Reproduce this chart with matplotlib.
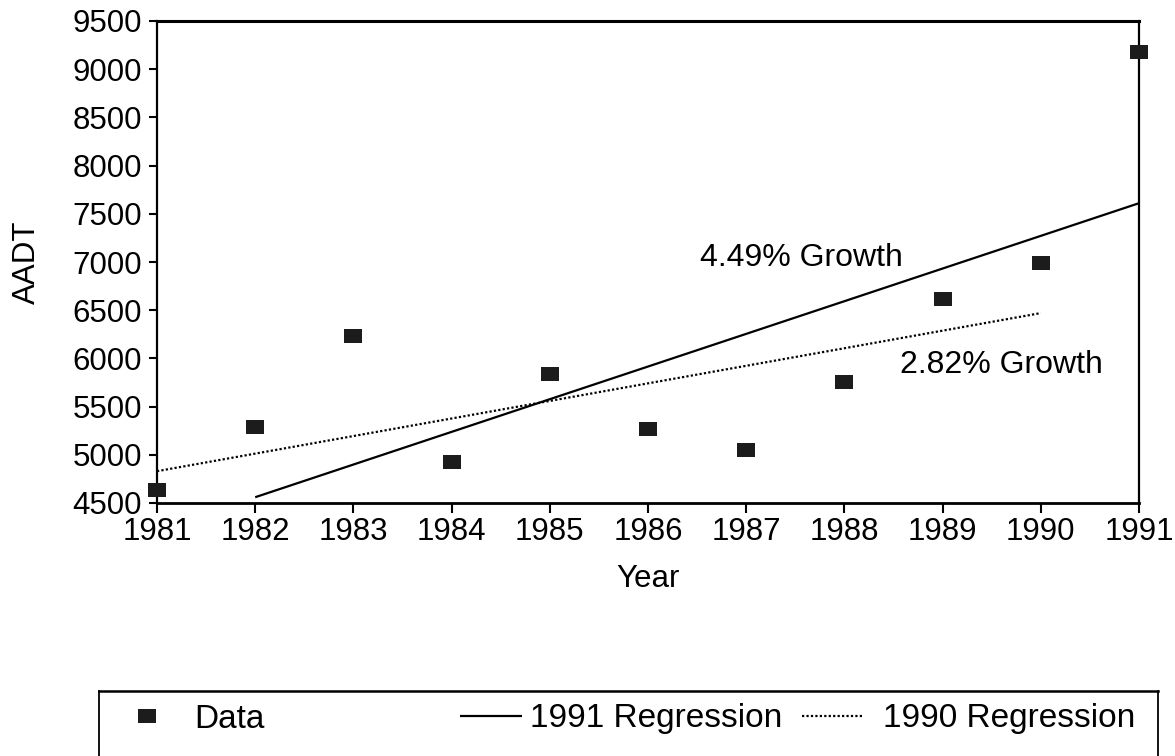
import matplotlib
matplotlib.use("Agg")
import matplotlib.pyplot as plt
from matplotlib.lines import Line2D

plt.rcParams['font.family'] = ['Liberation Sans', 'DejaVu Sans']

# data
anos = [1981, 1982, 1983, 1984, 1985, 1986, 1987, 1988, 1989, 1990, 1991]
aadt = [4640, 5290, 6230, 4925, 5838, 5268, 5050, 5755, 6616, 6990, 9178]

reg91_x = [1982, 1991]
reg91_y = [4560, 7610]

reg90_x = [1981, 1990]
reg90_y = [4830, 6470]

yticks = [4500, 5000, 5500, 6000, 6500, 7000, 7500, 8000, 8500, 9000, 9500]

fig = plt.figure(figsize=(11.75, 7.56), dpi=100)
ax = fig.add_axes([157/1175, 1 - 503/756, (1139-157)/1175, (503-21)/756])

cor = '#1c1c1c'
caixa = [(-1.3, -1), (1.3, -1), (1.3, 1), (-1.3, 1), (-1.3, -1)]

l1, = ax.plot(reg91_x, reg91_y, color='black', lw=1.6, solid_capstyle='butt')
l2, = ax.plot(reg90_x, reg90_y, color='black', lw=1.6, linestyle=(0, (1, 1)))
pts, = ax.plot(anos, aadt, linestyle='none', marker=caixa, markersize=13.5,
               color=cor, markeredgewidth=0, clip_on=False, zorder=5)

ax.set_xlim(1981, 1991)
ax.set_ylim(4500, 9500)
ax.set_xticks(anos)
ax.set_xticklabels([str(a) for a in anos], fontsize=22.5)
ax.set_yticks(yticks)
ax.set_yticklabels([str(v) for v in yticks], fontsize=22.5)
ax.tick_params(axis='y', direction='out', length=6, width=1.5, pad=5)
ax.tick_params(axis='x', direction='out', length=7, width=1.5, pad=3)

for s in ax.spines.values():
    s.set_linewidth(1.6)
ax.spines['top'].set_linewidth(2.2)
ax.spines['bottom'].set_linewidth(2.0)

ax.set_xlabel('Year', fontsize=22.5, labelpad=12)
ax.set_ylabel('AADT', fontsize=22.5, labelpad=22)

ax.text(1986.53, 7042, '4.49% Growth', fontsize=23, va='center', ha='left')
ax.text(1988.57, 5932, '2.82% Growth', fontsize=23, va='center', ha='left')

# legend box (open at the bottom, cut by the page)
fig.add_artist(Line2D([99/1175, 1158/1175], [1 - 691/756, 1 - 691/756],
                      transform=fig.transFigure, color='black', lw=1.8))
fig.add_artist(Line2D([99/1175, 99/1175], [1 - 691/756, 0],
                      transform=fig.transFigure, color='black', lw=1.3))
fig.add_artist(Line2D([1158/1175, 1158/1175], [1 - 691/756, 0],
                      transform=fig.transFigure, color='black', lw=1.3))

yleg = 1 - 719/756
comum = dict(loc='center left', frameon=False, fontsize=24, borderpad=0,
             borderaxespad=0)
fig.legend([pts], ['Data'], bbox_to_anchor=(130/1175, yleg),
           handlelength=1.0, handletextpad=0.94, **comum)
fig.legend([l1], ['1991 Regression'], bbox_to_anchor=(460/1175, yleg),
           handlelength=1.86, handletextpad=0.25, **comum)
fig.legend([l2], ['1990 Regression'], bbox_to_anchor=(802/1175, yleg),
           handlelength=1.86, handletextpad=0.57, **comum)

plt.savefig('out.png', dpi=100)
